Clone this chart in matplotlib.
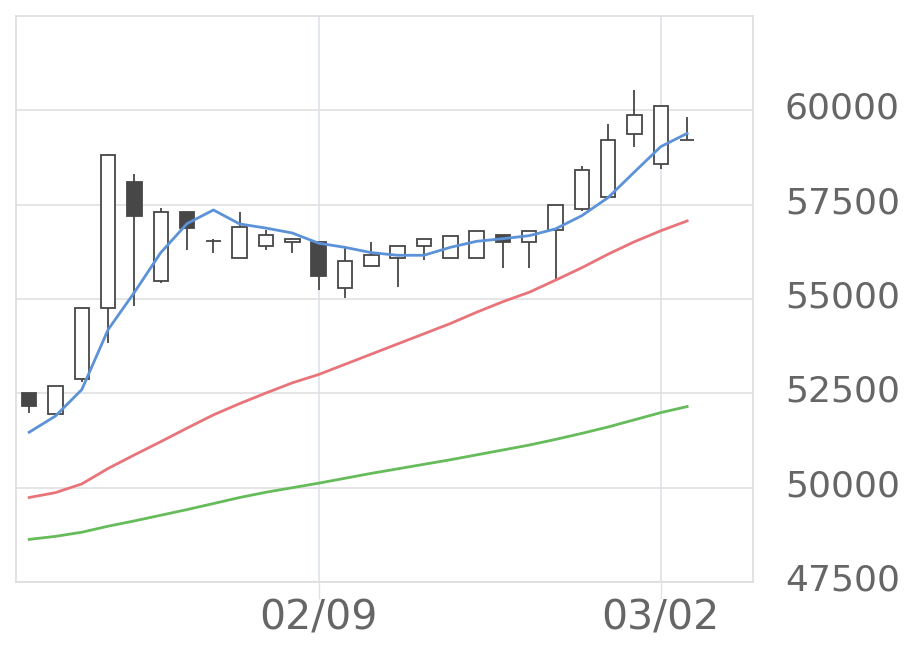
import matplotlib
matplotlib.use("Agg")
import matplotlib.pyplot as plt
from matplotlib.transforms import ScaledTranslation

# ---------------------- DATA ----------------------
dates = ["01/23", "01/26", "01/27", "01/28", "01/29", "01/30", "02/02", "02/03",
         "02/04", "02/05", "02/06", "02/09", "02/10", "02/12", "02/13", "02/16",
         "02/17", "02/18", "02/19", "02/20", "02/24", "02/25", "02/26", "02/27",
         "03/02", "03/03"]

opens = [52510, 51960, 52890, 54770, 58110, 55480, 57310, 56540, 56100, 56410,
         56500, 56520, 55300, 55880, 56100, 56410, 56100, 56100, 56690, 56500,
         56830, 57390, 57700, 59380, 58580, 59220]
highs = [52510, 52690, 54770, 58840, 58320, 57400, 57310, 56590, 57310, 56830,
         56610, 56520, 56410, 56520, 56410, 56590, 56680, 56810, 56690, 56810,
         57490, 58520, 59630, 60530, 60120, 59820]
lows = [51990, 51950, 52800, 53830, 54810, 55420, 56300, 56230, 56100, 56300,
        56230, 55240, 55020, 55880, 55330, 56040, 56100, 56100, 55820, 55820,
        55520, 57330, 57700, 59030, 58450, 59220]
closes = [52170, 52685, 54770, 58830, 57190, 57310, 56890, 56550, 56900, 56690,
          56600, 55600, 56010, 56180, 56410, 56590, 56680, 56810, 56500, 56810,
          57490, 58420, 59220, 59890, 60120, 59220]

ma_short = [51470, 51900, 52600, 54190, 55180, 56230, 57000, 57360, 56990, 56880,
            56750, 56480, 56370, 56230, 56160, 56160, 56370, 56530, 56600, 56680,
            56860, 57210, 57690, 58370, 59040, 59390]
ma_mid = [49740, 49870, 50100, 50510, 50870, 51220, 51580, 51930, 52230, 52510,
          52780, 53000, 53270, 53540, 53810, 54080, 54350, 54650, 54930, 55180,
          55500, 55830, 56190, 56520, 56810, 57070]
ma_long = [48630, 48710, 48820, 48980, 49120, 49270, 49420, 49580, 49740, 49880,
           50000, 50120, 50250, 50380, 50500, 50620, 50740, 50870, 51000, 51130,
           51280, 51440, 51610, 51800, 51990, 52150]

shown_dates = ["02/09", "03/02"]
y_ticks = [47500, 50000, 52500, 55000, 57500, 60000]

# ---------------------- GRÁFICO ----------------------
fig = plt.figure(figsize=(9.2, 6.69), dpi=100)
ax = fig.add_axes([0.0174, 0.130, 0.801, 0.846])

x = list(range(len(dates)))
dark = "#474747"

# pavios
ax.vlines(x, lows, highs, color=dark, linewidth=1.3, zorder=2)

# corpos
for i in x:
    o, c = opens[i], closes[i]
    fill = dark if c < o else "white"
    ax.bar(i, abs(c - o), bottom=min(o, c), width=0.55, color=fill,
           edgecolor=dark, linewidth=1.3, zorder=3)

ax.plot(x, ma_long, color="#66bb5b", linewidth=2.0, zorder=4)
ax.plot(x, ma_mid, color="#e8747a", linewidth=2.0, zorder=4)
ax.plot(x, ma_short, color="#5b92d8", linewidth=2.0, zorder=5)

ax.set_xlim(-0.5, 27.5)
ax.set_ylim(47500, 62500)

ax.set_yticks(y_ticks)
ax.set_yticklabels([str(v) for v in y_ticks])
ax.yaxis.tick_right()
ax.tick_params(axis="y", length=0, pad=23, labelsize=26, labelcolor="#666666")
# rótulos do eixo y um pouco acima da linha de grade
for lab in ax.get_yticklabels():
    lab.set_transform(lab.get_transform() + ScaledTranslation(0, 0.05, fig.dpi_scale_trans))

xt = [dates.index(d) for d in shown_dates]
ax.set_xticks(xt)
ax.set_xticklabels(shown_dates)
ax.tick_params(axis="x", length=12, width=1, color="#dde2ea", pad=0,
               labelsize=29.5, labelcolor="#666666")

ax.grid(True, axis="y", color="#e0e0e0", linewidth=1.2)
ax.grid(True, axis="x", color="#dde2ea", linewidth=1.2)
ax.set_axisbelow(True)
for s in ax.spines.values():
    s.set_color("#dddddd")
    s.set_linewidth(1.2)

plt.savefig("out.png", dpi=100)
